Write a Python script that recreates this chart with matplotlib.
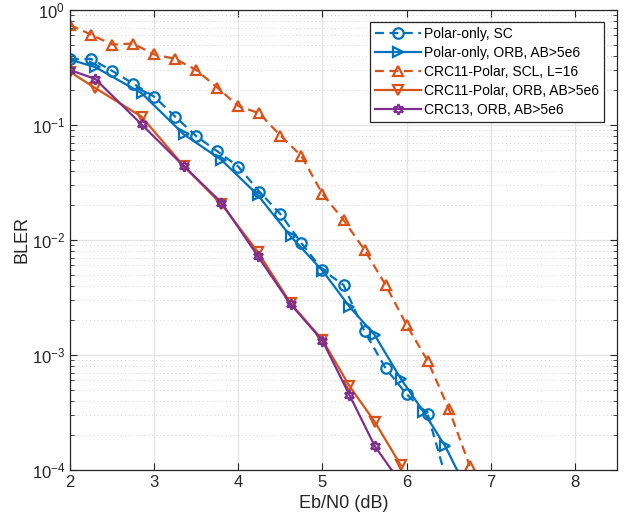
import numpy as np
import matplotlib
matplotlib.use('Agg')
import matplotlib.pyplot as plt
from matplotlib.ticker import LogLocator, NullFormatter

plt.rcParams['font.family'] = ['Liberation Sans', 'DejaVu Sans']

# Eb/N0 points and BLER values
ebn0_sc = [2.0, 2.25, 2.5, 2.75, 3.0, 3.25, 3.5, 3.75, 4.0, 4.25, 4.5, 4.75,
           5.0, 5.25, 5.5, 5.75, 6.0, 6.25, 6.5]
bler_sc = [0.372, 0.375, 0.295, 0.229, 0.176, 0.118, 0.0798, 0.059, 0.0434,
           0.0263, 0.0168, 0.00936, 0.00548, 0.00406, 0.0016, 7.66e-4,
           4.55e-4, 3.07e-4, 7e-5]

ebn0_orb = [2.0, 2.3, 2.85, 3.35, 3.8, 4.23, 4.62, 5.0, 5.32, 5.62, 5.93,
            6.2, 6.46, 6.75]
bler_polar_orb = [0.37, 0.318, 0.189, 0.083, 0.0496, 0.0246, 0.0108, 0.0054,
                  0.00263, 0.00149, 6.22e-4, 3.21e-4, 1.6e-4, 6e-5]

ebn0_scl = [2.0, 2.25, 2.5, 2.75, 3.0, 3.25, 3.5, 3.75, 4.0, 4.25, 4.5, 4.75,
            5.0, 5.25, 5.5, 5.75, 6.0, 6.25, 6.5, 6.75]
bler_scl = [0.74, 0.61, 0.50, 0.51, 0.41, 0.375, 0.30, 0.211, 0.146, 0.126,
            0.0807, 0.0537, 0.0251, 0.0149, 0.00818, 0.00406, 0.00182,
            8.87e-4, 3.41e-4, 1.08e-4]

ebn0_crc = [2.0, 2.3, 2.85, 3.35, 3.8, 4.23, 4.62, 5.0, 5.32, 5.62, 5.93]
bler_crc11_orb = [0.289, 0.209, 0.118, 0.044, 0.0204, 0.0079, 0.00282,
                  0.00135, 5.37e-4, 2.63e-4, 1.1e-4]
bler_crc13_orb = [0.30, 0.251, 0.101, 0.044, 0.0211, 0.00726, 0.00277,
                  0.00133, 4.49e-4, 1.62e-4, 7.7e-5]

blue = '#0072BD'
orange = '#D95319'
purple = '#7E2F8E'

fig = plt.figure(figsize=(6.28, 5.21), dpi=100)
ax = fig.add_axes([0.1115, 0.098, 0.871, 0.883])

lw = 1.6
ms = 7.5
dash = (4, 2.5)
ax.semilogy(ebn0_sc, bler_sc, color=blue, ls='--', dashes=dash, lw=lw,
            marker='o', ms=ms, mfc='none', mew=1.6, label='Polar-only, SC')
ax.semilogy(ebn0_orb, bler_polar_orb, color=blue, lw=lw,
            marker='>', ms=ms, mfc='none', mew=1.6,
            label='Polar-only, ORB, AB>5e6')
ax.semilogy(ebn0_scl, bler_scl, color=orange, ls='--', dashes=dash, lw=lw,
            marker='^', ms=ms, mfc='none', mew=1.6,
            label='CRC11-Polar, SCL, L=16')
ax.semilogy(ebn0_crc, bler_crc11_orb, color=orange, lw=lw,
            marker='v', ms=ms, mfc='none', mew=1.6,
            label='CRC11-Polar, ORB, AB>5e6')
ax.semilogy(ebn0_crc, bler_crc13_orb, color=purple, lw=lw,
            marker=(6, 1, 0), ms=ms, mfc='none', mew=1.6,
            label='CRC13, ORB, AB>5e6')

ax.set_xlim(2, 8.5)
ax.set_ylim(1e-4, 1)
ax.set_xticks([2, 3, 4, 5, 6, 7, 8])
ax.yaxis.set_major_locator(LogLocator(base=10, numticks=10))
ax.yaxis.set_minor_locator(LogLocator(base=10, subs=np.arange(2, 10), numticks=20))
ax.yaxis.set_minor_formatter(NullFormatter())

ax.grid(True, which='major', color='#e3e3e3', lw=0.9, ls='-')
ax.grid(True, which='minor', axis='y', color='#cfcfcf', lw=0.7, ls=(0, (1, 3)))
ax.set_axisbelow(True)

ax.tick_params(which='both', direction='in', top=True, right=True,
               colors='#262626', labelsize=12)
ax.tick_params(which='major', length=5, width=0.8)
ax.tick_params(which='minor', length=3, width=0.6)
for s in ax.spines.values():
    s.set_color('#262626')
    s.set_linewidth(0.9)

ax.set_xlabel('Eb/N0 (dB)', fontsize=13, color='#262626')
ax.set_ylabel('BLER', fontsize=13, color='#262626', labelpad=1)

leg = ax.legend(loc='upper right', bbox_to_anchor=(0.976, 0.974),
                borderaxespad=0, fontsize=10, handlelength=3.3,
                fancybox=False, framealpha=1, edgecolor='#262626',
                labelspacing=0.36, handletextpad=0.2, borderpad=0.38)
leg.get_frame().set_linewidth(0.9)

plt.savefig('out.png', dpi=100)
